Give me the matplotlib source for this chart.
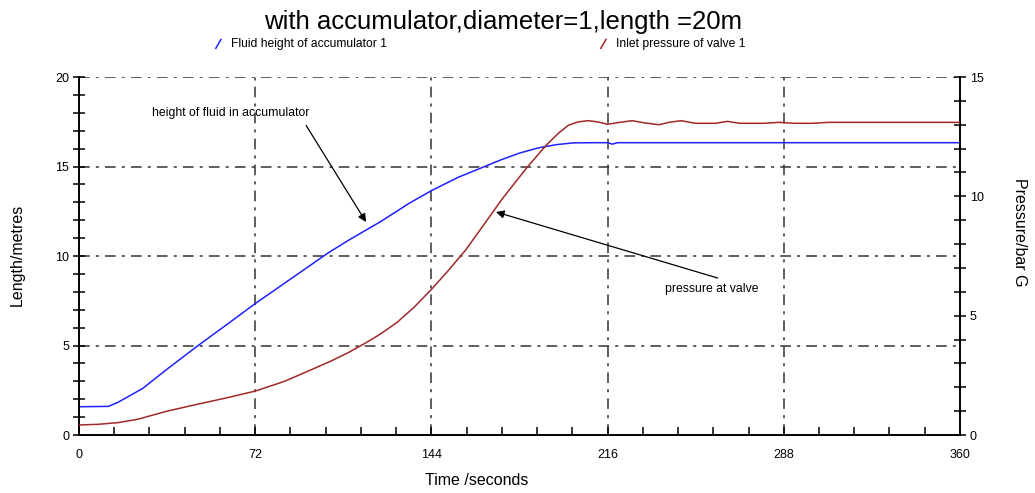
import matplotlib.pyplot as plt
from matplotlib.ticker import MultipleLocator

plt.rcParams['font.family'] = ['Liberation Sans', 'DejaVu Sans']

# fluid height in the accumulator (metres)
height_time = [0, 12, 16, 26, 36, 48, 60, 72, 90, 102, 111, 123, 135, 144, 155, 164,
               172, 180, 188, 195, 202, 210, 216, 218, 220, 230, 360]
height_vals = [1.58, 1.6, 1.83, 2.6, 3.68, 4.93, 6.13, 7.34, 9.05, 10.19, 10.95, 11.9,
               12.95, 13.65, 14.4, 14.9, 15.35, 15.75, 16.05, 16.22, 16.32, 16.33,
               16.33, 16.25, 16.33, 16.33, 16.33]

# inlet pressure of the valve (bar G)
press_time = [0, 8, 16, 24, 36, 48, 60, 72, 84, 93, 103, 110, 117, 123, 130, 137, 144,
              151, 158, 165, 173, 183, 191, 196, 200, 204, 208, 212, 216, 221, 226, 231,
              237, 241, 246, 252, 260, 265, 270, 280, 286, 292, 300, 306, 360]
press_vals = [0.42, 0.45, 0.52, 0.66, 1.0, 1.28, 1.55, 1.84, 2.25, 2.65, 3.1, 3.45, 3.85,
              4.22, 4.72, 5.36, 6.1, 6.9, 7.75, 8.75, 9.9, 11.2, 12.15, 12.65, 12.98,
              13.12, 13.17, 13.12, 13.02, 13.1, 13.17, 13.08, 13.0, 13.1, 13.17, 13.06,
              13.06, 13.14, 13.06, 13.06, 13.1, 13.06, 13.06, 13.1, 13.1]

grid_style = dict(color='#333333', lw=1.1, ls=(0, (7, 4, 2, 4)), zorder=1)

fig = plt.figure(figsize=(10.35, 4.93), dpi=100)
ax = fig.add_axes([0.0763, 0.1176, 0.8512, 0.7262])
ax2 = ax.twinx()

ax.plot(height_time, height_vals, color='#2020ff', lw=1.1, zorder=3)
ax2.plot(press_time, press_vals, color='#a02828', lw=1.1, zorder=3)

ax.set_xlim(0, 360)
ax.set_ylim(0, 20)
ax2.set_ylim(0, 15)

# dash-dot grid, including the top line in place of a frame
for x in [72, 144, 216, 288]:
    ax.axvline(x, **grid_style)
for y in [5, 10, 15, 20]:
    ax.axhline(y, **grid_style)

for a in (ax, ax2):
    a.spines['top'].set_visible(False)
    for s in a.spines.values():
        s.set_linewidth(1.2)

ax.xaxis.set_major_locator(MultipleLocator(72))
ax.xaxis.set_minor_locator(MultipleLocator(14.4))
ax.yaxis.set_major_locator(MultipleLocator(5))
ax.yaxis.set_minor_locator(MultipleLocator(1))
ax2.yaxis.set_major_locator(MultipleLocator(5))
ax2.yaxis.set_minor_locator(MultipleLocator(1))

ax.tick_params(axis='x', which='both', direction='in', length=6, width=1.1,
               labelsize=9, pad=10)
ax.tick_params(axis='y', which='both', direction='inout', length=8, width=1.1,
               labelsize=9, pad=3)
ax2.tick_params(axis='y', which='both', direction='inout', length=8, width=1.1,
                labelsize=9, pad=3)

ax.set_xlabel('Time /seconds', fontsize=11.5)
ax.xaxis.set_label_coords(0.452, -0.107)
ax.set_ylabel('Length/metres', fontsize=11.5)
ax.yaxis.set_label_coords(-0.062, 0.503)
ax2.set_ylabel('Pressure/bar G', fontsize=11.5, rotation=270, va='center')
ax2.yaxis.set_label_coords(1.068, 0.567)

fig.text(0.486, 0.955, 'with accumulator,diameter=1,length =20m', fontsize=18.5,
         ha='center', va='center')

# legend entries: a short slanted stroke followed by the label
fig.add_artist(plt.Line2D([0.2085, 0.2135], [0.902, 0.920], color='#2020ff', lw=1.1))
fig.text(0.223, 0.911, 'Fluid height of accumulator 1', fontsize=8.7, va='center')
fig.add_artist(plt.Line2D([0.5805, 0.5855], [0.902, 0.920], color='#a02828', lw=1.1))
fig.text(0.595, 0.911, 'Inlet pressure of valve 1', fontsize=8.7, va='center')

arrow = dict(arrowstyle='-|>', color='black', lw=0.9, mutation_scale=12, shrinkA=0, shrinkB=0)
ax.annotate('', xy=(117.3, 11.9), xytext=(92.8, 17.3), arrowprops=arrow, zorder=4)
ax.text(29.8, 18.0, 'height of fluid in accumulator', fontsize=8.8, va='center')
ax.annotate('', xy=(170.4, 12.46), xytext=(261, 8.77), arrowprops=arrow, zorder=4)
ax.text(239.5, 8.16, 'pressure at valve', fontsize=8.8, va='center')

plt.savefig('out.png', dpi=100)
